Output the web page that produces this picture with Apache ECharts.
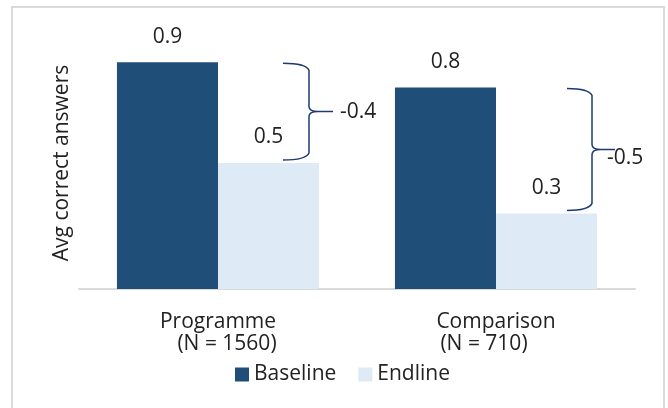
<!DOCTYPE html>
<html>
<head>
<meta charset="utf-8">
<script src="https://cdn.jsdelivr.net/npm/echarts@6/dist/echarts.min.js"></script>
<style>
  html, body { margin: 0; padding: 0; background: #fff; }
  #chart { width: 668px; height: 408px; }
</style>
</head>
<body>
<div id="chart"></div>
<script>
// Average number of correct answers, baseline vs endline, by group
const categories = ['Programme', 'Comparison'];
const groupSizes = ['N = 1560', 'N = 710'];
const seriesNames = ['Baseline', 'Endline'];
const baseline = [0.9, 0.8];
const endline = [0.5, 0.3];
const change = [-0.4, -0.5];

// Brace geometry, in pixels relative to each category centre
const braceLayout = [
  { arm: 65, spine: 91, stem: 24, labelDx: 31, labelDy: 0 },
  { arm: 71, spine: 96, stem: 23, labelDx: 15, labelDy: 9 }
];
// Horizontal nudge of the "(N = …)" line under each category name
const sizeLinePad = [[0, 0, 0, 18], [0, 24, 0, 0]];

const FONT = 'Open Sans';
const FS = 21;
const TEXT = '#222222';
const DARK = '#1F4E79';
const LIGHT = '#DEEAF6';
const BRACE = '#1D3A76';

const chart = echarts.init(document.getElementById('chart'), null, { renderer: 'canvas' });

const rich = { name: { fontSize: FS, fontFamily: FONT, color: TEXT, lineHeight: 22 } };
categories.forEach((c, i) => {
  rich['n' + i] = { fontSize: FS, fontFamily: FONT, color: TEXT, lineHeight: 22, padding: sizeLinePad[i] };
});

function renderBrace(params, api) {
  const i = api.value(0);
  const L = braceLayout[params.dataIndex];
  const top = api.coord([i, api.value(1)]);
  const bot = api.coord([i, api.value(2)]);
  const cx = top[0];
  const yt = top[1] + 1;
  const yb = bot[1] - 3;
  const ym = (yt + yb) / 2;
  const x0 = cx + L.arm;
  const xs = cx + L.spine;
  const xt = xs + 9;
  const xe = xs + L.stem;
  const d = [
    'M', x0, yt,
    'Q', xs - 3, yt, xs, yt + 7,
    'L', xs, ym - 5,
    'Q', xs, ym, xt, ym,
    'Q', xs, ym, xs, ym + 5,
    'L', xs, yb - 7,
    'Q', xs - 3, yb, x0, yb,
    'M', xt, ym,
    'L', xe, ym
  ].join(' ');
  return {
    type: 'group',
    children: [
      {
        type: 'path',
        shape: { pathData: d },
        style: { stroke: BRACE, fill: null, lineWidth: 1.5 }
      },
      {
        type: 'text',
        style: {
          text: String(api.value(3)),
          x: xs + L.labelDx,
          y: ym + L.labelDy,
          fill: TEXT,
          fontSize: FS,
          fontFamily: FONT,
          align: 'left',
          verticalAlign: 'middle'
        }
      }
    ]
  };
}

const option = {
  animation: false,
  backgroundColor: '#ffffff',
  textStyle: { fontFamily: FONT },
  graphic: [
    {
      type: 'rect',
      shape: { x: 12, y: 7, width: 652, height: 430 },
      style: { fill: null, stroke: '#D9D9D9', lineWidth: 2 },
      silent: true,
      z: -1
    }
  ],
  grid: { left: 79, right: 33, top: 37, bottom: 119 },
  legend: {
    data: seriesNames,
    left: 235,
    top: 364,
    padding: 0,
    icon: 'rect',
    itemWidth: 14,
    itemHeight: 14,
    itemGap: 22,
    textStyle: { fontSize: FS, fontFamily: FONT, color: TEXT }
  },
  xAxis: {
    type: 'category',
    data: categories,
    axisLine: { lineStyle: { color: '#D9D9D9', width: 2 } },
    axisTick: { show: false },
    axisLabel: {
      margin: 22,
      interval: 0,
      formatter: (v, i) => '{name|' + v + '}\n{n' + i + '|(' + groupSizes[i] + ')}',
      rich: rich
    }
  },
  yAxis: {
    type: 'value',
    min: 0,
    max: 1,
    axisLine: { show: false },
    axisTick: { show: false },
    axisLabel: { show: false },
    splitLine: { show: false },
    name: 'Avg correct answers',
    nameLocation: 'middle',
    nameGap: 6,
    nameTextStyle: { fontSize: FS, fontFamily: FONT, color: TEXT }
  },
  series: [
    {
      name: seriesNames[0],
      type: 'bar',
      data: baseline,
      barGap: '0%',
      barCategoryGap: '27.3%',
      itemStyle: { color: DARK },
      label: {
        show: true, position: 'top', distance: 15,
        fontSize: FS, fontFamily: FONT, color: TEXT,
        formatter: p => p.value.toFixed(1)
      }
    },
    {
      name: seriesNames[1],
      type: 'bar',
      data: endline,
      barGap: '0%',
      barCategoryGap: '27.3%',
      itemStyle: { color: LIGHT },
      label: {
        show: true, position: 'top', distance: 15,
        fontSize: FS, fontFamily: FONT, color: TEXT,
        formatter: p => p.value.toFixed(1)
      }
    },
    {
      type: 'custom',
      renderItem: renderBrace,
      silent: true,
      z: 5,
      data: categories.map((c, i) => [i, baseline[i], endline[i], change[i]])
    }
  ]
};

chart.setOption(option);
</script>
</body>
</html>
